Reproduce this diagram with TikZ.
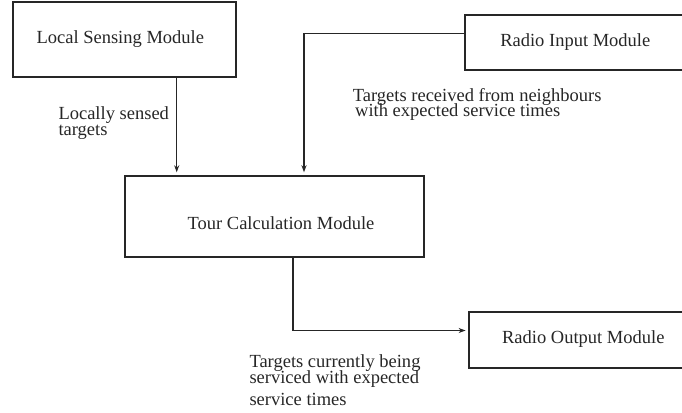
\documentclass[tikz,border=0pt]{standalone}
\usepackage{fontspec}
\setmainfont{Liberation Serif}
\usetikzlibrary{arrows.meta}
\begin{document}
\begin{tikzpicture}[x=1pt,y=-1pt,
  box/.style={draw=black!85, line width=1.8pt, rectangle, inner sep=0pt},
  boxtxt/.style={anchor=base, inner sep=0pt, font=\fontsize{18.5}{22}\selectfont, text=black!85},
  lbl/.style={anchor=base west, inner sep=0pt, font=\fontsize{18.5}{15.5}\selectfont, text=black!85},
  arr/.style={draw=black!85, line width=1.4pt, -{Stealth[length=7pt,width=5pt]}, shorten >=2.5pt}]
\useasboundingbox (0,0) rectangle (682,412);
% boxes
\node[box, minimum width=223.3pt, minimum height=75pt] (ls) at (124.35,39.2) {};
\node[box, minimum width=221.3pt, minimum height=55pt] (ri) at (575.35,42.5) {};
\node[box, minimum width=299pt, minimum height=81pt] (tc) at (274.5,216.2) {};
\node[box, minimum width=229pt, minimum height=55.7pt] (ro) at (583.5,339.85) {};
% box texts
\node[boxtxt] (lst) at (120.3,43.3) {Local Sensing Module};
\node[boxtxt] (rit) at (575.3,46.7) {Radio Input Module};
\node[boxtxt] (tct) at (281,229) {Tour Calculation Module};
\node[boxtxt] (rot) at (583.3,343.3) {Radio Output Module};
% connectors
\coordinate (c1) at (176.7,0);
\coordinate (c2) at (304,33.3);
\coordinate (c3) at (293,330.5);
\draw[arr] (c1 |- ls.south) -- (c1 |- tc.north);
\draw[arr] (c2 -| ri.west) -- (c2) -- (c2 |- tc.north);
\draw[arr] (c3 |- tc.south) -- (c3) -- (c3 -| ro.west);
% labels
\node[lbl] (l1) at (58.3,119.3) {\vtop{\baselineskip=15.7pt\lineskiplimit=-30pt
  \hbox{Locally sensed}\hbox{targets}}};
\node[lbl] (l2) at (352.7,101) {\vtop{\baselineskip=15pt\lineskiplimit=-30pt
  \hbox{Targets received from neighbours}\hbox{\hspace{2.3pt}with expected service times}}};
\node[lbl] (l3) at (249.3,367.7) {\vtop{\baselineskip=15.3pt\lineskiplimit=-30pt
  \hbox{Targets currently being}\hbox{serviced with expected}\vskip7.4pt\hbox{service times}}};
\end{tikzpicture}
\end{document}
